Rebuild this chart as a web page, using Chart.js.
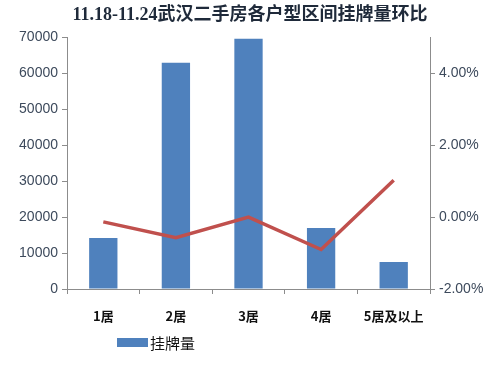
<!DOCTYPE html>
<html>
<head>
<meta charset="utf-8">
<script src="https://cdn.jsdelivr.net/npm/chart.js@4"></script>
<style>
    body { margin: 0; background: #fff; }
    #wrap { position: relative; width: 500px; height: 365px; }
    #legend {
        position: absolute; left: 117px; top: 332px;
        font: 15px "Noto Sans CJK SC", sans-serif; color: #111;
        display: flex; align-items: center;
    }
    #legend span.box { display: inline-block; width: 31px; height: 9px; background: #4f81bd; margin-right: 2px; }
</style>
</head>
<body>
<div id="wrap">
    <canvas id="chart" width="500" height="365"></canvas>
    <div id="legend"><span class="box"></span>挂牌量</div>
</div>
<script>
// Data
const categories = ["1居", "2居", "3居", "4居", "5居及以上"];
const listings = [14200, 63000, 69700, 17000, 7500];
const weekChange = [-0.13, -0.57, 0.0, -0.9, 1.03];   // percent
const leftTicks = [0, 10000, 20000, 30000, 40000, 50000, 60000, 70000];
const rightTicks = [-2, 0, 2, 4];

const tickColor = "#3d4a5c";
const axisColor = "#8c8c8c";

const ctx = document.getElementById("chart").getContext("2d");

new Chart(ctx, {
    data: {
        labels: categories,
        datasets: [{
            type: "line",
            label: "环比",
            data: weekChange,
            yAxisID: "y1",
            borderColor: "#c0504d",
            borderWidth: 3.5,
            pointRadius: 0,
            tension: 0
        }, {
            type: "bar",
            label: "挂牌量",
            data: listings,
            yAxisID: "y",
            backgroundColor: "#4f81bd",
            categoryPercentage: 1,
            barPercentage: 0.39
        }]
    },
    options: {
        responsive: false,
        animation: false,
        layout: { padding: { left: 0, right: 0, top: 0, bottom: 0 } },
        plugins: {
            legend: { display: false },
            tooltip: { enabled: false },
            title: {
                display: true,
                text: "11.18-11.24武汉二手房各户型区间挂牌量环比",
                color: "#1f2a3a",
                font: { size: 18, weight: "bold", family: "'Liberation Serif', 'Noto Sans CJK SC', serif" },
                padding: { top: 5, bottom: 11 }
            }
        },
        scales: {
            x: {
                grid: { drawOnChartArea: false, drawTicks: true, tickLength: 5, color: axisColor },
                border: { display: true, color: axisColor },
                ticks: {
                    color: "#111",
                    padding: 14,
                    font: { size: 13, weight: "bold", family: "'Noto Sans CJK SC', sans-serif" }
                },
                afterFit: (scale) => { scale.height = 76; }
            },
            y: {
                position: "left",
                min: 0,
                max: 70000,
                afterBuildTicks: (scale) => { scale.ticks = leftTicks.map(v => ({ value: v })); },
                grid: { drawOnChartArea: false, drawTicks: true, tickLength: 5, color: axisColor },
                border: { display: true, color: axisColor },
                ticks: {
                    color: tickColor,
                    padding: 4,
                    font: { size: 14, family: "'Liberation Sans', Arial, sans-serif" },
                    callback: (v) => String(v)
                },
                afterFit: (scale) => { scale.width = 67; }
            },
            y1: {
                position: "right",
                min: -2,
                max: 5,
                afterBuildTicks: (scale) => { scale.ticks = rightTicks.map(v => ({ value: v })); },
                grid: { drawOnChartArea: false, drawTicks: true, tickLength: 5, color: axisColor },
                border: { display: true, color: axisColor },
                ticks: {
                    color: tickColor,
                    padding: 4,
                    font: { size: 14, family: "'Liberation Sans', Arial, sans-serif" },
                    callback: (v) => v.toFixed(2) + "%"
                },
                afterFit: (scale) => { scale.width = 70; }
            }
        }
    }
});
</script>
</body>
</html>
